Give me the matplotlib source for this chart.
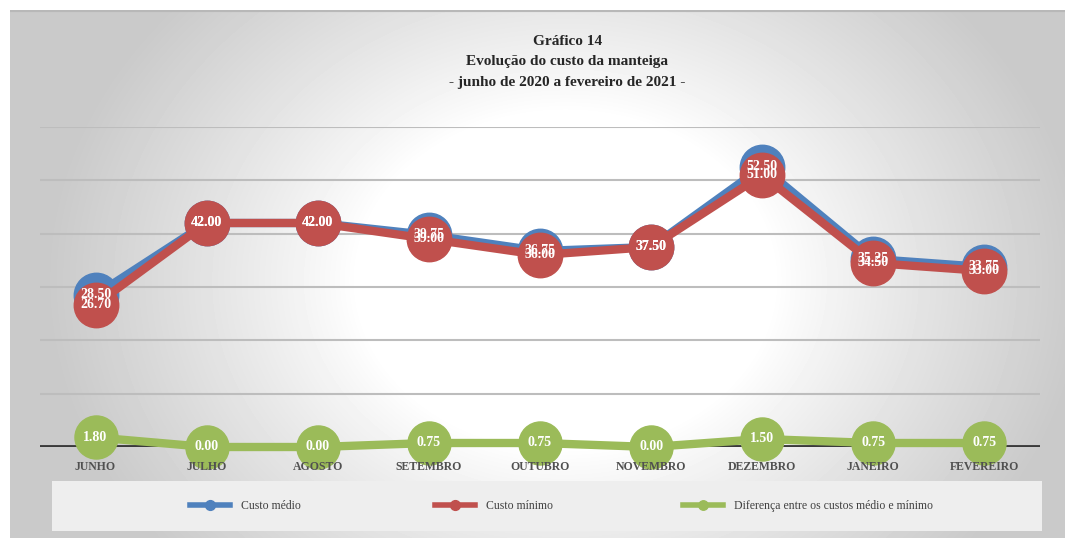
import numpy as np
import matplotlib
matplotlib.use('Agg')
import matplotlib.pyplot as plt
from matplotlib.patches import Rectangle

# data
meses = ['JUNHO', 'JULHO', 'AGOSTO', 'SETEMBRO', 'OUTUBRO', 'NOVEMBRO', 'DEZEMBRO', 'JANEIRO', 'FEVEREIRO']
custo_medio = [28.50, 42.00, 42.00, 39.75, 36.75, 37.50, 52.50, 35.25, 33.75]
custo_minimo = [26.70, 42.00, 42.00, 39.00, 36.00, 37.50, 51.00, 34.50, 33.00]
diferenca = [1.80, 0.00, 0.00, 0.75, 0.75, 0.00, 1.50, 0.75, 0.75]

titulo = 'Gráfico 14\nEvolução do custo da manteiga\n- junho de 2020 a fevereiro de 2021 -'

AZUL = '#4f81bd'
VERMELHO = '#c0504d'
VERDE = '#9bbb59'
FONTE = dict(family=['Liberation Serif', 'DejaVu Serif'])

W, H = 1072, 538
fig = plt.figure(figsize=(W / 100, H / 100), dpi=100)
fig.patch.set_facecolor('white')

# gradient background of the chart frame
bg = fig.add_axes([10 / W, 0, 1055 / W, 528 / H])
yy, xx = np.mgrid[0:528, 0:1055]
r = np.sqrt(((xx - 555) / 520.0) ** 2 + ((yy - 270) / 420.0) ** 2)
v = 1 - 0.21 * np.clip((r - 0.4) / 0.6, 0, 1) ** 0.9
bg.imshow(v, cmap='gray', vmin=0, vmax=1, aspect='auto', extent=[0, 1, 0, 1])
bg.set_xlim(0, 1)
bg.set_ylim(0, 1)
bg.axis('off')
bg.axhline(1, color='#b8b8b8', lw=3)

# legend box
fig.patches.append(Rectangle((52 / W, (H - 531) / H), 990 / W, 50 / H,
                             transform=fig.transFigure, facecolor='#eeeeee',
                             edgecolor='none', zorder=1))

ax = fig.add_axes([40 / W, (H - 447) / H, 1000 / W, 320 / H])
ax.set_facecolor('none')
x = np.arange(len(meses))
ax.set_xlim(-0.5, len(meses) - 0.5)
ax.set_ylim(0, 60)
ax.set_yticks(range(0, 70, 10))
ax.yaxis.grid(True, color='#bdbdbd', lw=1.5)
ax.tick_params(axis='y', length=0, labelleft=False)
ax.tick_params(axis='x', length=0, pad=10, labelsize=8.5, labelcolor='#505050')
ax.set_xticks(x)
ax.set_xticklabels(meses, fontweight='bold', **FONTE)
ax.xaxis.set_zorder(8)  # month names sit over the green markers, as in the original
for s in ax.spines.values():
    s.set_visible(False)
ax.axhline(0, color='#3a3a3a', lw=3.5, zorder=2)

ln_m, = ax.plot(x, custo_medio, color=AZUL, lw=6, marker='o', ms=32, mec=AZUL,
                clip_on=False, zorder=3, label='Custo médio')
ln_n, = ax.plot(x, custo_minimo, color=VERMELHO, lw=6, marker='o', ms=32, mec=VERMELHO,
                clip_on=False, zorder=4, label='Custo mínimo')
ln_d, = ax.plot(x, diferenca, color=VERDE, lw=6, marker='o', ms=31, mec=VERDE,
                clip_on=False, zorder=5, label='Diferença entre os custos médio e mínimo')

for serie in (custo_medio, custo_minimo, diferenca):
    for xi, yv in zip(x, serie):
        ax.text(xi, yv, f'{yv:.2f}', color='white', ha='center', va='center',
                fontsize=10, fontweight='bold', zorder=6, **FONTE)

fig.text(0.529, 1 - 62 / H, titulo, ha='center', va='center', fontsize=11,
         fontweight='bold', color='#262626', linespacing=1.75, **FONTE)

# legend entries
for h, x0 in zip([ln_m, ln_n, ln_d], [190, 435, 683]):
    leg = fig.legend(handles=[h], loc='center left', bbox_to_anchor=(x0 / W, (H - 506) / H),
                     frameon=False, markerscale=0.22, handlelength=3.4, handletextpad=0.9,
                     borderpad=0, borderaxespad=0, prop=dict(size=8.5, **FONTE))
    leg.get_texts()[0].set_color('#404040')
    leg.legend_handles[0].set_linewidth(4)

fig.savefig('out.png', dpi=100, facecolor='white')
